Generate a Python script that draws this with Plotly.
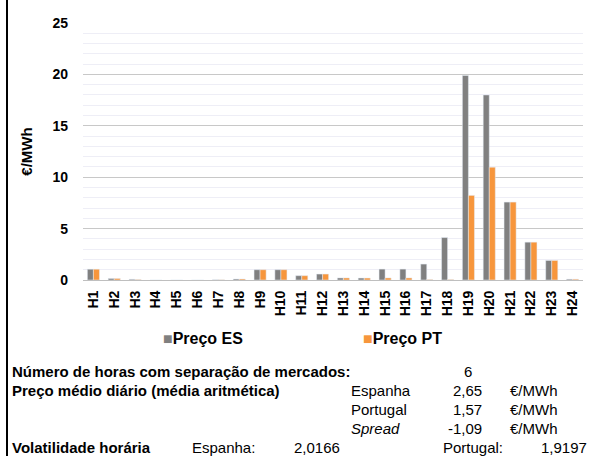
import plotly.graph_objects as go

hours = [f"H{i}" for i in range(1, 25)]
preco_es = [1.05, 0.15, 0.07, 0.0, 0.0, 0.0, 0.02, 0.10, 1.00, 1.00, 0.42, 0.58,
            0.20, 0.19, 1.06, 1.06, 1.55, 4.13, 19.90, 18.00, 7.58, 3.68, 1.90, 0.08]
preco_pt = [1.05, 0.15, 0.05, 0.0, 0.0, 0.0, 0.02, 0.10, 1.00, 1.00, 0.42, 0.58,
            0.20, 0.19, 0.20, 0.20, 0.05, 0.05, 8.23, 10.97, 7.58, 3.68, 1.90, 0.08]
y_ticks = [0, 5, 10, 15, 20, 25]

GRAY = "#808080"
ORANGE = "#F7963C"
FONT = "Liberation Sans, Arial, sans-serif"

W, H = 589, 456
L, R, T, B = 83, 6, 23, 176
PW, PH = W - L - R, H - T - B


def px(x):
    return (x - L) / PW


def py(y):
    return (H - B - y) / PH


fig = go.Figure()
fig.add_trace(go.Bar(x=hours, y=preco_es, name="Preço ES", marker_color=GRAY))
fig.add_trace(go.Bar(x=hours, y=preco_pt, name="Preço PT", marker_color=ORANGE))

ann = []


def txt(x, y, s, anchor="left", size=15, bold=False, italic=False):
    if bold:
        s = f"<b>{s}</b>"
    if italic:
        s = f"<i>{s}</i>"
    ann.append(dict(x=px(x), y=py(y), xref="paper", yref="paper", text=s,
                    showarrow=False, xanchor=anchor, yanchor="middle",
                    font=dict(family=FONT, size=size, color="black")))


# legend
txt(161, 338, f"<span style='color:{GRAY}'>■</span><b>Preço ES</b>", size=16)
txt(361, 338, f"<span style='color:{ORANGE}'>■</span><b>Preço PT</b>", size=16)

# table
txt(10, 371, "Número de horas com separação de mercados:", bold=True)
txt(468, 371, "6", anchor="center")
txt(10, 390, "Preço médio diário (média aritmética)", bold=True)
rows = [("Espanha", "2,65", False, 390), ("Portugal", "1,57", False, 409),
        ("Spread", "-1,09", True, 428)]
for lab, val, it, y in rows:
    txt(349, y, lab, italic=it)
    txt(484, y, val, anchor="right")
    txt(508, y, "€/MWh")
txt(10, 447, "Volatilidade horária", bold=True)
txt(190, 447, "Espanha:")
txt(292, 447, "2,0166")
txt(441, 447, "Portugal:")
txt(589, 447, "1,9197", anchor="right")

fig.update_layout(
    width=W, height=H,
    margin=dict(l=L, r=R, t=T, b=B, pad=0, autoexpand=False),
    paper_bgcolor="white", plot_bgcolor="white",
    barmode="group", bargap=0.42, bargroupgap=0,
    showlegend=False,
    font=dict(family=FONT, color="black"),
    annotations=ann,
    shapes=[dict(type="line", xref="paper", yref="paper",
                 x0=px(7), x1=px(7), y0=py(0), y1=py(H),
                 line=dict(color="black", width=2))],
    xaxis=dict(
        automargin=False,
        tickangle=-90, tickfont=dict(size=14, family=FONT, color="black", weight="bold"),
        showline=True, linecolor="#BFBFBF", linewidth=1,
        showgrid=False, ticks="", ticklabelstandoff=4,
    ),
    yaxis=dict(
        automargin=False,
        range=[0, 25], tickvals=y_ticks, ticktext=[str(v) for v in y_ticks],
        tickfont=dict(size=14, family=FONT, color="black", weight="bold"),
        showgrid=True, gridcolor="#C8C8C8", gridwidth=1,
        minor=dict(dtick=1, showgrid=True, gridcolor="#EEEEF6", gridwidth=1),
        zeroline=False, showline=False, ticks="", ticklabelstandoff=14,
        title=dict(text="<b>€/MWh</b>", font=dict(size=15, family=FONT, color="black"),
                   standoff=16),
    ),
)

fig.write_html("out.html", config={"displayModeBar": False},
               post_script="document.body.style.margin='0px';document.body.style.overflow='hidden';")
